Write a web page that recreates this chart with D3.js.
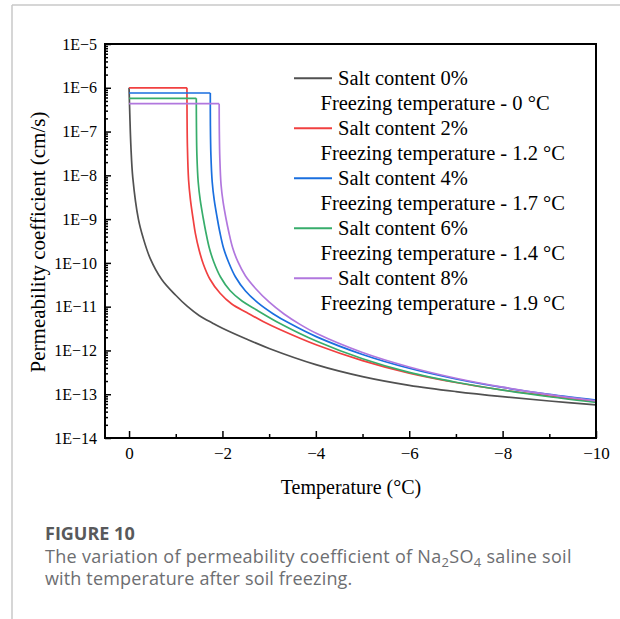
<!DOCTYPE html>
<html>
<head>
<meta charset="utf-8">
<script src="https://cdn.jsdelivr.net/npm/d3@7"></script>
<style>
  html, body { margin: 0; padding: 0; background: #fff; }
  svg { display: block; }
</style>
</head>
<body>
<svg id="chart" width="620" height="619"></svg>
<script>
// ---------------- data ----------------
const seriesNames = ["Salt content 0%", "Salt content 2%", "Salt content 4%", "Salt content 6%", "Salt content 8%"];
const freezingLabels = ["Freezing temperature - 0 \u00B0C", "Freezing temperature - 1.2 \u00B0C", "Freezing temperature - 1.7 \u00B0C", "Freezing temperature - 1.4 \u00B0C", "Freezing temperature - 1.9 \u00B0C"];
const seriesColors = ["#515151", "#F14040", "#1A6FDF", "#37AD6B", "#B177DE"];

// Salt content 0%
const temp0 = [0, -0.016, -0.04, -0.08, -0.2, -0.3, -0.45, -0.7, -1.0, -1.25, -1.5, -1.8, -2, -2.5, -3, -4, -5, -6, -7, -8, -9, -10];
const perm0 = [1e-6, 2.5e-7, 4.5e-8, 8.9e-9, 1.0e-9, 3.8e-10, 1.29e-10, 4.18e-11, 1.82e-11, 1.01e-11, 6.28e-12, 4.15e-12, 3.22e-12, 1.85e-12, 1.11e-12, 4.75e-13, 2.53e-13, 1.60e-13, 1.15e-13, 8.8e-14, 7.0e-14, 5.7e-14];

// Salt content 2%
const temp2 = [0, -1.24, -1.242, -1.25, -1.275, -1.315, -1.375, -1.42, -1.5, -1.59, -1.73, -1.95, -2.2, -2.52, -2.87, -3.23, -4.02, -5, -6, -7, -8, -9, -10];
const perm2 = [1e-6, 1e-6, 2.39e-7, 4.51e-8, 7.83e-9, 2.74e-9, 9.55e-10, 4.74e-10, 1.97e-10, 9.44e-11, 4.29e-11, 2.02e-11, 1.15e-11, 7.36e-12, 4.58e-12, 3.01e-12, 1.33e-12, 5.86e-13, 3.03e-13, 1.85e-13, 1.25e-13, 9.08e-14, 6.82e-14];

// Salt content 4%
const temp4 = [0, -1.74, -1.742, -1.753, -1.781, -1.824, -1.884, -1.944, -2.023, -2.13, -2.28, -2.494, -2.762, -3.083, -3.447, -4.02, -5, -6, -7, -8, -9, -10];
const perm4 = [7.6e-7, 7.6e-7, 1.41e-7, 2.92e-8, 7.05e-9, 2.74e-9, 1.12e-9, 5.08e-10, 2.19e-10, 1.05e-10, 4.76e-11, 2.28e-11, 1.22e-11, 6.92e-12, 4.1e-12, 2.04e-12, 8.09e-13, 3.91e-13, 2.23e-13, 1.43e-13, 9.98e-14, 7.38e-14];

// Salt content 6%
const temp6 = [0, -1.44, -1.443, -1.453, -1.481, -1.524, -1.588, -1.644, -1.719, -1.815, -1.959, -2.162, -2.419, -2.734, -3.233, -4.02, -5, -6, -7, -8, -9, -10];
const perm6 = [5.75e-7, 5.75e-7, 1.41e-7, 2.92e-8, 7.05e-9, 2.74e-9, 1.06e-9, 5.08e-10, 2.19e-10, 1.05e-10, 4.76e-11, 2.34e-11, 1.35e-11, 8.39e-12, 4.13e-12, 1.62e-12, 6.46e-13, 3.15e-13, 1.88e-13, 1.24e-13, 8.75e-14, 6.49e-14];

// Salt content 8%
const temp8 = [0, -1.93, -1.933, -1.944, -1.971, -2.014, -2.074, -2.136, -2.22, -2.333, -2.494, -2.719, -2.997, -3.319, -3.661, -4.02, -5, -6, -7, -8, -9, -10];
const perm8 = [4.33e-7, 4.33e-7, 1.09e-7, 2.49e-8, 6.01e-9, 2.46e-9, 1.06e-9, 5.08e-10, 2.19e-10, 1.05e-10, 5.02e-11, 2.54e-11, 1.28e-11, 6.81e-12, 3.94e-12, 2.43e-12, 8.97e-13, 4.19e-13, 2.32e-13, 1.45e-13, 9.82e-14, 7.08e-14];

const xMajorTicks = [0, -2, -4, -6, -8, -10];
const xMinorTicks = [-1, -3, -5, -7, -9];
const yMajorExponents = [-14, -13, -12, -11, -10, -9, -8, -7, -6, -5];

const xTitle = "Temperature (\u00B0C)";
const yTitle = "Permeability coefficient (cm/s)";
const figLabel = "FIGURE 10";

// ---------------- drawing ----------------
const serif = "'Liberation Serif', 'Times New Roman', serif";
const sans = "'Open Sans', 'Noto Sans', sans-serif";
const svg = d3.select("#chart");

const pLeft = 105, pRight = 596, pTop = 44, pBottom = 438;
const x = d3.scaleLinear().domain([0.515, -10]).range([pLeft, pRight]);
const y = d3.scaleLog().domain([1e-14, 1e-5]).range([pBottom, pTop]);

// page frame (grey lines)
svg.append("line").attr("x1", 12).attr("x2", 620).attr("y1", 5).attr("y2", 5)
  .attr("stroke", "#c8c8c8").attr("stroke-width", 1.5);
svg.append("line").attr("x1", 12).attr("x2", 12).attr("y1", 5).attr("y2", 619)
  .attr("stroke", "#c8c8c8").attr("stroke-width", 1.5);

// series
const series = [
  {t: temp0, v: perm0}, {t: temp2, v: perm2}, {t: temp4, v: perm4},
  {t: temp6, v: perm6}, {t: temp8, v: perm8}
];
const flatLine = d3.line().x(d => x(d[0])).y(d => y(d[1]));
const decayLine = d3.line().x(d => x(d[0])).y(d => y(d[1])).curve(d3.curveCatmullRom.alpha(0.5));
const plotG = svg.append("g");
series.forEach((s, i) => {
  const pts = s.t.map((t, j) => [t, s.v[j]]);
  let k = 0;
  while (k + 1 < pts.length && pts[k + 1][1] === pts[0][1]) k++;
  const d = (k > 0 ? flatLine(pts.slice(0, k + 1)) : "") + decayLine(pts.slice(k));
  plotG.append("path").attr("d", d).attr("fill", "none")
    .attr("stroke", seriesColors[i]).attr("stroke-width", 1.7);
});

// y axis
const yMinor = [];
yMajorExponents.slice(0, -1).forEach(e => { for (let m = 2; m <= 9; m++) yMinor.push(m * Math.pow(10, e)); });
const yAxisMinor = d3.axisLeft(y).tickValues(yMinor).tickFormat("").tickSizeInner(-3).tickSizeOuter(0);
const yAxisMajor = d3.axisLeft(y).tickValues(yMajorExponents.map(e => Math.pow(10, e)))
  .tickFormat(v => "1E\u2212" + Math.abs(Math.round(Math.log10(v))))
  .tickSizeInner(-6).tickSizeOuter(0).tickPadding(8);
const gy1 = svg.append("g").attr("transform", `translate(${pLeft},0)`).call(yAxisMinor);
const gy2 = svg.append("g").attr("transform", `translate(${pLeft},0)`).call(yAxisMajor);
[gy1, gy2].forEach(g => { g.select(".domain").remove(); g.selectAll("line").attr("stroke", "#000").attr("stroke-width", 1.5); });
gy2.selectAll("text").attr("font-family", serif).attr("font-size", 16).attr("fill", "#000");

// x axis
const xAxisMinor = d3.axisBottom(x).tickValues(xMinorTicks).tickFormat("").tickSizeInner(-4).tickSizeOuter(0);
const xAxisMajor = d3.axisBottom(x).tickValues(xMajorTicks)
  .tickFormat(v => v === 0 ? "0" : "\u2212" + Math.abs(v))
  .tickSizeInner(-7).tickSizeOuter(0).tickPadding(8.5);
const gx1 = svg.append("g").attr("transform", `translate(0,${pBottom})`).call(xAxisMinor);
const gx2 = svg.append("g").attr("transform", `translate(0,${pBottom})`).call(xAxisMajor);
[gx1, gx2].forEach(g => { g.select(".domain").remove(); g.selectAll("line").attr("stroke", "#000").attr("stroke-width", 1.5); });
gx2.selectAll("text").attr("font-family", serif).attr("font-size", 17).attr("fill", "#000");

// plot frame
svg.append("rect").attr("x", pLeft).attr("y", pTop).attr("width", pRight - pLeft).attr("height", pBottom - pTop)
  .attr("fill", "none").attr("stroke", "#000").attr("stroke-width", 2);

// axis titles
svg.append("text").attr("x", 351).attr("y", 494).attr("text-anchor", "middle")
  .attr("font-family", serif).attr("font-size", 20).attr("fill", "#000").text(xTitle);
svg.append("text").attr("transform", "translate(45,242) rotate(-90)").attr("text-anchor", "middle")
  .attr("font-family", serif).attr("font-size", 21).attr("fill", "#000").text(yTitle);

// legend
const legG = svg.append("g");
seriesNames.forEach((name, i) => {
  const cy = 78.3 + i * 50;
  legG.append("line").attr("x1", 294).attr("x2", 332).attr("y1", cy).attr("y2", cy)
    .attr("stroke", seriesColors[i]).attr("stroke-width", 2);
  legG.append("text").attr("x", 338).attr("y", cy).attr("dy", "0.33em")
    .attr("font-family", serif).attr("font-size", 20.5).attr("fill", "#000").text(name);
  legG.append("text").attr("x", 320.5).attr("y", cy + 25).attr("dy", "0.33em")
    .attr("font-family", serif).attr("font-size", 20.5).attr("fill", "#000").text(freezingLabels[i]);
});

// caption
svg.append("text").attr("x", 45).attr("y", 540).attr("font-family", sans).attr("font-weight", 700)
  .attr("font-size", 18).attr("fill", "#58595b").text(figLabel);
const cap1 = svg.append("text").attr("x", 45).attr("y", 563).attr("font-family", sans)
  .attr("font-size", 18).attr("letter-spacing", 0.3).attr("fill", "#6d6e71");
cap1.append("tspan").text("The variation of permeability coefficient of Na");
cap1.append("tspan").attr("font-size", 13).attr("dy", 4).text("2");
cap1.append("tspan").attr("dy", -4).text("SO");
cap1.append("tspan").attr("font-size", 13).attr("dy", 4).text("4");
cap1.append("tspan").attr("dy", -4).text(" saline soil");
svg.append("text").attr("x", 45).attr("y", 585).attr("font-family", sans)
  .attr("font-size", 18).attr("letter-spacing", 0.15).attr("fill", "#6d6e71").text("with temperature after soil freezing.");
</script>
</body>
</html>
